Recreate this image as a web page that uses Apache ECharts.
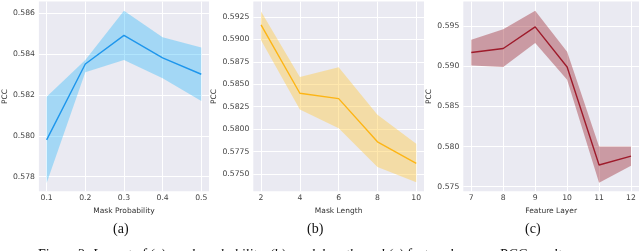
<!DOCTYPE html>
<html>
<head>
<meta charset="utf-8">
<script src="https://cdn.jsdelivr.net/npm/echarts@6/dist/echarts.min.js"></script>
<style>
html,body{margin:0;padding:0;background:#fff;}
#c{width:640px;height:251px;}
</style>
</head>
<body>
<div id="c"></div>
<script>
// ---- data ----
const probX = [0.1, 0.2, 0.3, 0.4, 0.5];
const probMean = [0.5798, 0.5835, 0.5849, 0.5838, 0.5830];
const probUpper = [0.5819, 0.5837, 0.5861, 0.5848, 0.5843];
const probLower = [0.5777, 0.5831, 0.5837, 0.5828, 0.5817];

const lenX = [2, 4, 6, 8, 10];
const lenMean = [0.5916, 0.5840, 0.5834, 0.5786, 0.5762];
const lenUpper = [0.5931, 0.5858, 0.5869, 0.5816, 0.5784];
const lenLower = [0.5899, 0.5822, 0.5801, 0.5758, 0.5741];

const layerX = [7, 8, 9, 10, 11, 12];
const layerMean = [0.5917, 0.5922, 0.5949, 0.5899, 0.5777, 0.5788];
const layerUpper = [0.5933, 0.5946, 0.5969, 0.5918, 0.5800, 0.5800];
const layerLower = [0.5901, 0.5899, 0.5929, 0.5883, 0.5755, 0.5776];

// tick values
const probXTicks = [0.1, 0.2, 0.3, 0.4, 0.5];
const probYTicks = [0.578, 0.580, 0.582, 0.584, 0.586];
const lenXTicks = [2, 4, 6, 8, 10];
const lenYTicks = [0.5750, 0.5775, 0.5800, 0.5825, 0.5850, 0.5875, 0.5900, 0.5925];
const layerXTicks = [7, 8, 9, 10, 11, 12];
const layerYTicks = [0.575, 0.580, 0.585, 0.590, 0.595];

const axisTitles = ['Mask Probability', 'Mask Length', 'Feature Layer'];
const subLabels = ['(a)', '(b)', '(c)'];

// ---- styling ----
const BG = '#EAEAF2';
const FONT = 'DejaVu Sans';
const labelColor = '#444';

const panels = [
  {x: probX, m: probMean, u: probUpper, l: probLower, xt: probXTicks, yt: probYTicks, xd: 1, yd: 3,
   grid: {left: 33.3, top: 1.5, width: 175.7, height: 189.8}, xr: [0.08, 0.52], yr: [0.57729, 0.58655],
   line: '#1E96EC', band: 'rgba(40,183,250,0.36)', gap: 26},
  {x: lenX, m: lenMean, u: lenUpper, l: lenLower, xt: lenXTicks, yt: lenYTicks, xd: 0, yd: 4,
   grid: {left: 253.3, top: 1.5, width: 170.7, height: 189.8}, xr: [1.6, 10.4], yr: [0.5731, 0.5942],
   line: '#FDB515', band: 'rgba(255,203,73,0.45)', gap: 31},
  {x: layerX, m: layerMean, u: layerUpper, l: layerLower, xt: layerXTicks, yt: layerYTicks, xd: 0, yd: 3,
   grid: {left: 463.3, top: 1.5, width: 175.7, height: 189.8}, xr: [6.75, 12.25], yr: [0.57443, 0.59805],
   line: '#9E1B2B', band: 'rgba(165,58,66,0.45)', gap: 26}
];

const grids = [], xAxes = [], yAxes = [], series = [];
panels.forEach((p, i) => {
  grids.push(Object.assign({backgroundColor: BG, show: true, borderWidth: 0}, p.grid));
  xAxes.push({
    type: 'value', gridIndex: i, min: p.xr[0], max: p.xr[1],
    name: axisTitles[i], nameLocation: 'middle', nameGap: 11.5,
    nameTextStyle: {fontFamily: FONT, fontSize: 7.5, color: '#333'},
    axisLine: {show: false}, axisTick: {show: false, customValues: p.xt},
    axisLabel: {customValues: p.xt, fontFamily: FONT, fontSize: 7.7, color: labelColor, margin: 3,
      formatter: v => v.toFixed(p.xd)},
    splitLine: {show: true, lineStyle: {color: '#fff', width: 1}}
  });
  yAxes.push({
    type: 'value', gridIndex: i, min: p.yr[0], max: p.yr[1],
    name: 'PCC', nameLocation: 'middle', nameGap: p.gap,
    nameTextStyle: {fontFamily: FONT, fontSize: 7.5, color: '#333'},
    axisLine: {show: false}, axisTick: {show: false, customValues: p.yt},
    axisLabel: {customValues: p.yt, fontFamily: FONT, fontSize: 7.7, color: labelColor, margin: 4,
      formatter: v => v.toFixed(p.yd)},
    splitLine: {show: true, lineStyle: {color: '#fff', width: 1}}
  });
  series.push({
    type: 'custom', xAxisIndex: i, yAxisIndex: i, z: 2, silent: true,
    data: p.x.map((x, k) => [x, p.l[k], p.u[k]]),
    encode: {x: 0, y: [1, 2]},
    renderItem: (params, api) => {
      if (params.dataIndex !== 0) return null;
      const pts = [];
      p.x.forEach((x, k) => pts.push(api.coord([x, p.u[k]])));
      for (let k = p.x.length - 1; k >= 0; k--) pts.push(api.coord([p.x[k], p.l[k]]));
      return {type: 'polygon', shape: {points: pts}, style: {fill: p.band, stroke: null}};
    }
  });
  series.push({
    type: 'line', xAxisIndex: i, yAxisIndex: i, z: 3, silent: true,
    data: p.x.map((x, k) => [x, p.m[k]]),
    showSymbol: false, symbol: 'none',
    lineStyle: {color: p.line, width: 1.4}
  });
});

const graphics = [];
const subX = [121, 315, 533];
subLabels.forEach((t, i) => {
  graphics.push({type: 'text', left: subX[i] - 8, top: 222,
    style: {text: t, font: '14px "Liberation Serif"', fill: '#111'}});
});
graphics.push({type: 'text', left: 38, top: 248.5,
  style: {
    text: '{n|Figure 2: }{i|Impact of (a) mask probability, (b) mask length, and (c) feature layer on PCC results.}',
    rich: {
      n: {fontFamily: 'Liberation Serif', fontSize: 14, fill: '#111'},
      i: {fontFamily: 'Liberation Serif', fontSize: 14, fontStyle: 'italic', fill: '#111'}
    }
  }});

const chart = echarts.init(document.getElementById('c'), null, {renderer: 'canvas'});
chart.setOption({
  animation: false,
  backgroundColor: '#fff',
  grid: grids, xAxis: xAxes, yAxis: yAxes, series: series,
  graphic: graphics
});
</script>
</body>
</html>
